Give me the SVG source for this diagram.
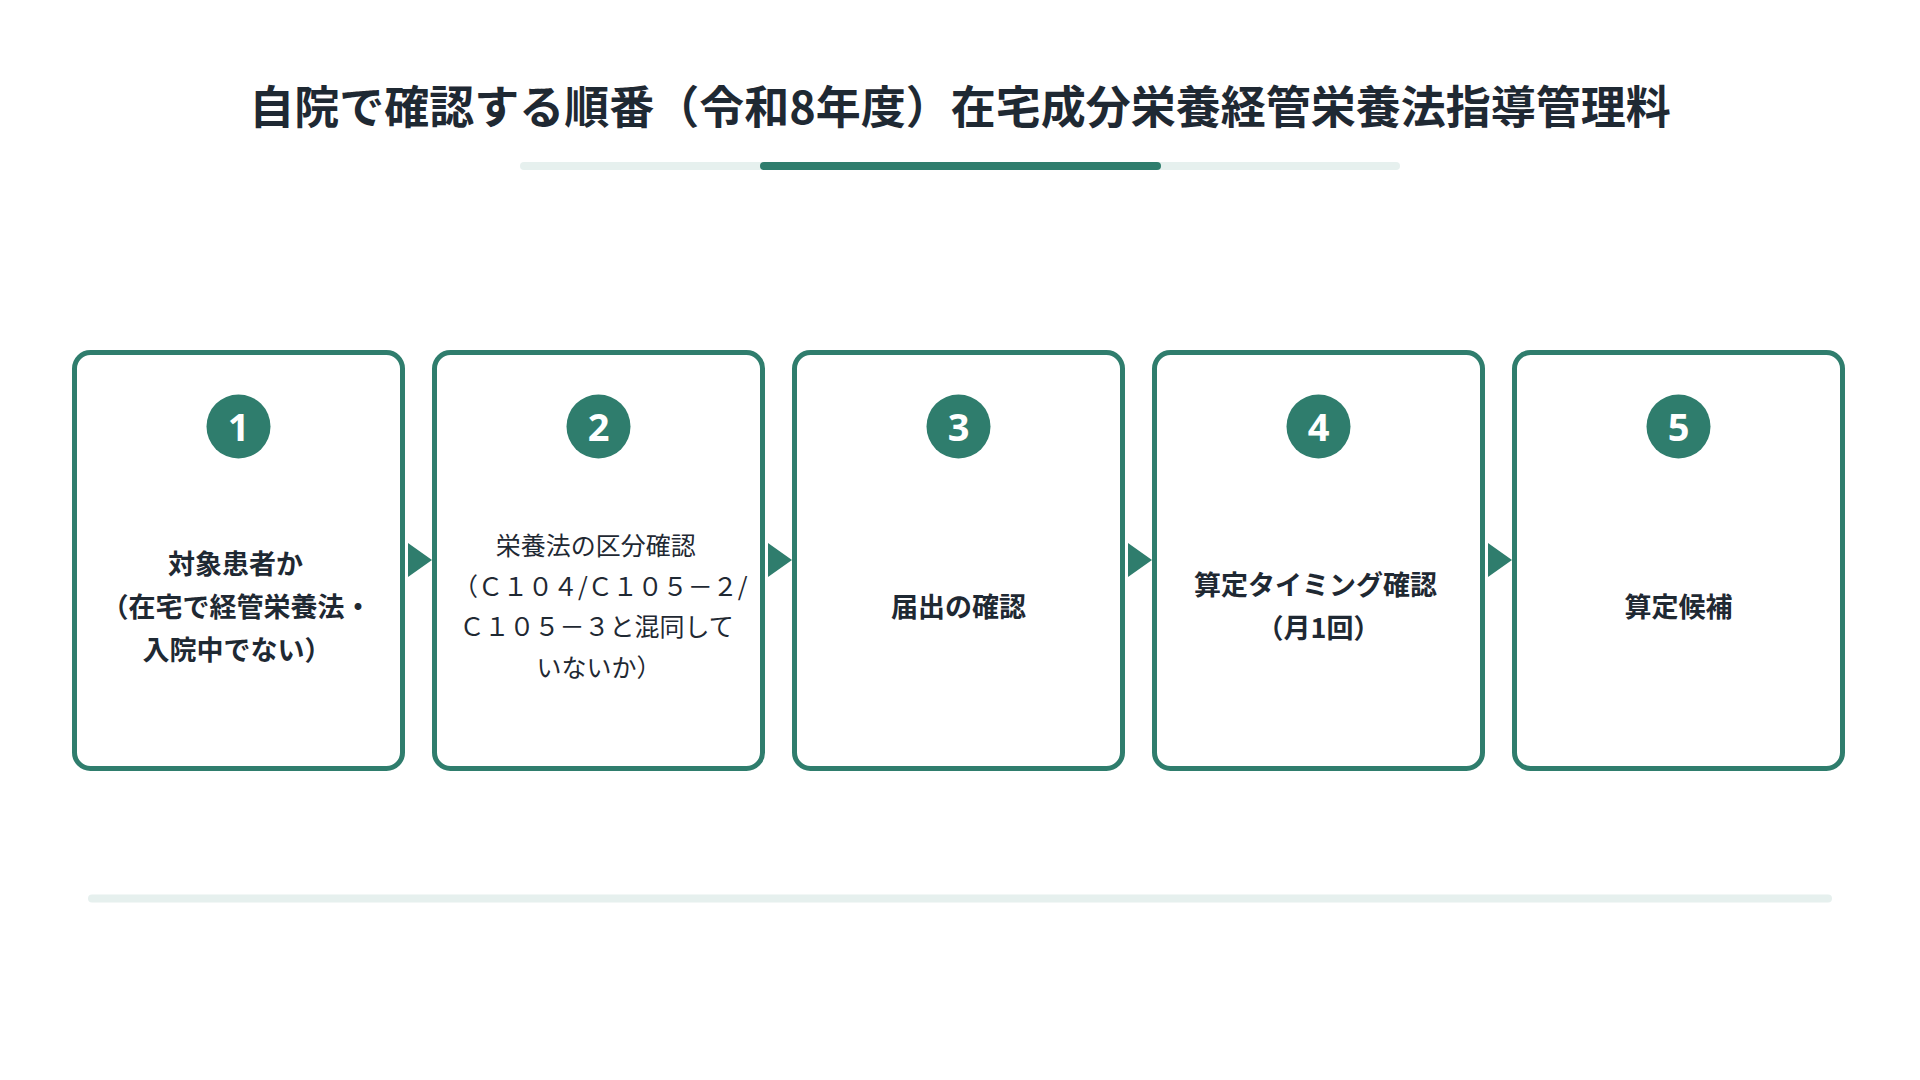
<svg xmlns="http://www.w3.org/2000/svg" width="1920" height="1080" viewBox="0 0 1920 1080">
  <style>
    .title { font-family: "Noto Sans CJK JP", "Noto Sans", sans-serif; font-size: 45px; font-weight: 700; fill: #1F2933; }
    .box { fill: #FFFFFF; stroke: #2F7D6D; stroke-width: 5; }
    .badge { fill: #2F7D6D; }
    .num { font-family: "Noto Sans", "Liberation Sans", sans-serif; font-size: 38px; font-weight: 700; fill: #FFFFFF; }
    .lbl { font-family: "Noto Sans CJK JP", "Noto Sans", sans-serif; font-size: 27px; font-weight: 700; fill: #1F2933; }
    .lbl2 { font-family: "Noto Sans CJK JP", "Noto Sans", sans-serif; font-size: 25px; font-weight: 400; fill: #1F2933; }
    .bar { fill: #E6F0EE; }
    .arrow { fill: #2F7D6D; }
  </style>
  <rect width="1920" height="1080" fill="#FFFFFF"/>

  <g id="header">
    <text class="title" x="960" y="104" text-anchor="middle" dominant-baseline="central">自院で確認する順番（令和8年度）在宅成分栄養経管栄養法指導管理料</text>
    <rect class="bar" x="520" y="162" width="880" height="8" rx="4"/>
    <rect x="760" y="162" width="401" height="8" rx="4" fill="#2F7D6D"/>
  </g>

  <g id="connectors">
    <polygon class="arrow" points="408,543 408,577 432,560"/>
    <polygon class="arrow" points="768,543 768,577 792,560"/>
    <polygon class="arrow" points="1128,543 1128,577 1152,560"/>
    <polygon class="arrow" points="1488,543 1488,577 1512,560"/>
  </g>

  <g id="step1">
    <rect class="box" x="74.5" y="352.5" width="328" height="416" rx="16"/>
    <circle class="badge" cx="238.5" cy="426.5" r="32"/>
    <text class="num" x="238.5" y="425.5" text-anchor="middle" dominant-baseline="central">1</text>
    <text class="lbl" x="238.5" text-anchor="middle" dominant-baseline="central">
      <tspan x="238.5" y="562">対象患者か</tspan>
      <tspan x="239.5" y="605">（在宅で経管栄養法・</tspan>
      <tspan x="237" y="648">入院中でない）</tspan>
    </text>
  </g>

  <g id="step2">
    <rect class="box" x="434.5" y="352.5" width="328" height="416" rx="16"/>
    <circle class="badge" cx="598.5" cy="426.5" r="32"/>
    <text class="num" x="598.5" y="425.5" text-anchor="middle" dominant-baseline="central">2</text>
    <text class="lbl2" x="598.5" text-anchor="middle" dominant-baseline="central">
      <tspan x="598.5" y="544">栄養法の区分確認</tspan>
      <tspan x="603" y="584.5">（Ｃ１０４/Ｃ１０５－２/</tspan>
      <tspan x="599.5" y="625">Ｃ１０５－３と混同して</tspan>
      <tspan x="599" y="665.5">いないか）</tspan>
    </text>
  </g>

  <g id="step3">
    <rect class="box" x="794.5" y="352.5" width="328" height="416" rx="16"/>
    <circle class="badge" cx="958.5" cy="426.5" r="32"/>
    <text class="num" x="958.5" y="425.5" text-anchor="middle" dominant-baseline="central">3</text>
    <text class="lbl" x="958.5" y="605" text-anchor="middle" dominant-baseline="central">届出の確認</text>
  </g>

  <g id="step4">
    <rect class="box" x="1154.5" y="352.5" width="328" height="416" rx="16"/>
    <circle class="badge" cx="1318.5" cy="426.5" r="32"/>
    <text class="num" x="1318.5" y="425.5" text-anchor="middle" dominant-baseline="central">4</text>
    <text class="lbl" x="1318.5" text-anchor="middle" dominant-baseline="central">
      <tspan x="1318.5" y="583">算定タイミング確認</tspan>
      <tspan x="1318.5" y="626">（月1回）</tspan>
    </text>
  </g>

  <g id="step5">
    <rect class="box" x="1514.5" y="352.5" width="328" height="416" rx="16"/>
    <circle class="badge" cx="1678.5" cy="426.5" r="32"/>
    <text class="num" x="1678.5" y="425.5" text-anchor="middle" dominant-baseline="central">5</text>
    <text class="lbl" x="1678.5" y="605" text-anchor="middle" dominant-baseline="central">算定候補</text>
  </g>

  <g id="footer">
    <rect class="bar" x="88" y="894.5" width="1744" height="8" rx="4"/>
  </g>
</svg>
